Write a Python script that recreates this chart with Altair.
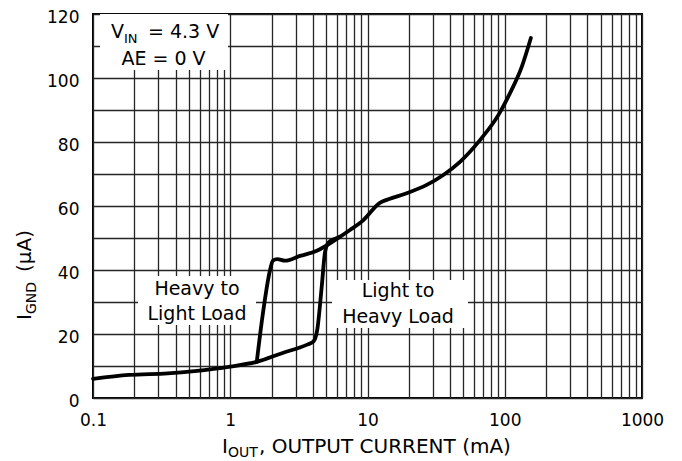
import altair as alt
import pandas as pd

# ---- data (I_OUT in mA, I_GND in uA) ----
common_I = [0.1, 0.183, 0.35, 0.55, 1.0, 1.56]
common_v = [6.0, 7.2, 7.7, 8.4, 9.8, 11.3]

light_I = [2.38, 3.6, 4.03, 4.3, 4.64, 4.9, 5.2, 5.7]
light_v = [14.0, 16.6, 17.6, 21.2, 34.8, 45.5, 48.6, 49.6]

main_I = [6.3, 7.45, 9.33, 12.3, 14.2, 19.3, 27, 35.7, 47.2, 66, 89.8, 109, 133, 155]
main_v = [50.4, 52.5, 55.6, 61.0, 62.1, 64.0, 66.6, 69.7, 73.8, 80.6, 88.4, 95.2, 103.5, 112.5]

heavy_I = [1.56, 1.73, 1.95, 2.05, 2.2, 2.5, 3.22, 4.27, 5.33, 6.3]
heavy_v = [11.3, 26.5, 40.0, 43.0, 43.4, 42.9, 44.4, 46.0, 48.3, 50.4]

x_ticks = [0.1, 1, 10, 100, 1000]
x_grid = [m * d for d in [0.1, 1, 10, 100] for m in range(1, 10)] + [1000]
y_grid = list(range(0, 121, 10))

rows = []
l2h_I = common_I + light_I + main_I
l2h_v = common_v + light_v + main_v
for i, (a, b) in enumerate(zip(l2h_I, l2h_v)):
    rows.append({"I": a, "v": b, "s": "L2H", "o": i})
for i, (a, b) in enumerate(zip(heavy_I, heavy_v)):
    rows.append({"I": a, "v": b, "s": "H2L", "o": i})
df = pd.DataFrame(rows)

FONT = "DejaVu Sans"
W, H = 549, 384
GRID = "#262626"

xscale = alt.Scale(type="log", domain=[0.1, 1000], nice=False)
yscale = alt.Scale(domain=[0, 120], nice=False, zero=False)

label_expr_x = "(datum.value == 0.1 || datum.value == 1 || datum.value == 10 || datum.value == 100 || datum.value == 1000) ? datum.label : ''"

curve = alt.Chart(df).mark_line(
    color="black", strokeWidth=3.8, interpolate="monotone", strokeCap="round", strokeJoin="round"
).encode(
    x=alt.X("I:Q", scale=xscale, axis=alt.Axis(
        values=x_grid, format="~g", labelExpr=label_expr_x, title=None,
        grid=True, ticks=False, domain=False, labelPadding=14,
        labelFontSize=17, labelFont=FONT, labelColor="black",
        gridColor=GRID, gridWidth=1.3, gridOpacity=1, labelFlush=False)),
    y=alt.Y("v:Q", scale=yscale, axis=alt.Axis(
        values=y_grid, labelExpr="datum.value % 20 == 0 ? datum.label : ''", title=None,
        grid=True, ticks=False, domain=False, labelPadding=14, labelOffset=3,
        labelFontSize=17, labelFont=FONT, labelColor="black",
        gridColor=GRID, gridWidth=1.3, gridOpacity=1)),
    detail="s:N",
    order="o:Q",
)

def box(x1, x2, y1, y2):
    return alt.Chart(pd.DataFrame({"a": [0]})).mark_rect(color="white").encode(
        x=alt.value(x1), x2=alt.value(x2), y=alt.value(y1), y2=alt.value(y2))

def txt(s, x, y, size, align="left", angle=0):
    return alt.Chart(pd.DataFrame({"t": [s]})).mark_text(
        font=FONT, fontSize=size, color="black", align=align, baseline="alphabetic", angle=angle
    ).encode(text="t:N", x=alt.value(x), y=alt.value(y))

layers = [
    curve,
    box(7, 135, 0, 56),
    txt("V", 31, 24, 19, "right"),
    txt("IN", 31, 29, 13),
    txt("= 4.3 V", 55, 24, 19),
    txt("AE = 0 V", 70.5, 51, 19, "center"),
    box(45, 163, 262, 311),
    txt("Heavy to", 104, 281, 19, "center"),
    txt("Light Load", 104, 306, 19, "center"),
    box(239, 375, 266, 314),
    txt("Light to", 305, 283, 19, "center"),
    txt("Heavy Load", 305, 309, 19, "center"),
    # x axis title with subscript
    txt("I", 135, 439, 20, "right"),
    txt("OUT", 135, 443, 14),
    txt(", OUTPUT CURRENT (mA)", 166, 439, 20),
    # y axis title with subscript (rotated)
    txt("I", -62, 306, 20, "left", 270),
    txt("GND", -57, 300, 14, "left", 270),
    txt("(\u00b5A)", -62, 258, 20, "left", 270),
]

chart = alt.layer(*layers).properties(
    width=W, height=H,
    autosize=alt.AutoSizeParams(type="none"),
    padding={"left": 85, "top": 6, "right": 32, "bottom": 62},
    background="white",
).configure_view(stroke="black", strokeWidth=2)

chart.save("out.html", embed_options={"renderer": "svg", "actions": False})
